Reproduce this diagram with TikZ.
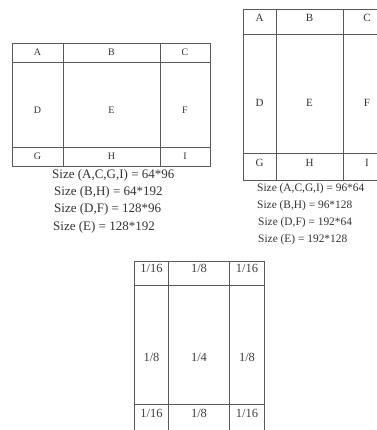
\documentclass[tikz,border=0pt]{standalone}
\usepackage{fontspec}
\setmainfont{Liberation Serif}
\begin{document}
\begin{tikzpicture}[x=1pt,y=-1pt,
  grid/.style={draw=black!65,line width=0.7pt},
  lab/.style={text=black!80,inner sep=0pt,font=\fontsize{10}{11}\selectfont},
  labb/.style={text=black!80,inner sep=0pt,font=\fontsize{11}{13}\selectfont},
  labc/.style={text=black!75,inner sep=0pt,font=\fontsize{12.5}{14}\selectfont},
  capa/.style={text=black!80,inner sep=0pt,anchor=west,font=\fontsize{13}{15}\selectfont},
  capb/.style={text=black!80,inner sep=0pt,anchor=west,font=\fontsize{11.4}{13}\selectfont}]
\useasboundingbox (0,0) rectangle (376,430);
% ---------- table 1 ----------
\draw[grid] (12,43) rectangle (210,166);
\draw[grid] (12,62) -- (210,62) (12,147) -- (210,147);
\draw[grid] (63,43) -- (63,166) (160,43) -- (160,166);
\node[lab] (a1) at (37.5,52.5) {A};
\node[lab] (b1) at (111.5,52.5) {B};
\node[lab] (c1) at (185,52.5) {C};
\node[lab] (d1) at (37.5,110) {D};
\node[lab] (e1) at (111.5,110) {E};
\node[lab] (f1) at (185,110) {F};
\node[lab] (g1) at (37.5,156.5) {G};
\node[lab] (h1) at (111.5,156.5) {H};
\node[lab] (i1) at (185,156.5) {I};
\node[capa] (s11) at (52,175.5) {Size (A,C,G,I) = 64*96};
\node[capa] (s12) at (54,192) {Size (B,H) = 64*192};
\node[capa] (s13) at (54,209) {Size (D,F) = 128*96};
\node[capa] (s14) at (53,227) {Size (E) = 128*192};
% ---------- table 2 ----------
\draw[grid] (390,9) -- (243,9) -- (243,180) -- (390,180);
\draw[grid] (243,34) -- (390,34) (243,153) -- (390,153);
\draw[grid] (276,9) -- (276,180) (343,9) -- (343,180);
\node[labb] (a2) at (259.5,18) {A};
\node[labb] (b2) at (309.5,18) {B};
\node[labb] (c2) at (367,18) {C};
\node[labb] (d2) at (259.5,103) {D};
\node[labb] (e2) at (309.5,103) {E};
\node[labb] (f2) at (367,103) {F};
\node[labb] (g2) at (259.5,163) {G};
\node[labb] (h2) at (309.5,163) {H};
\node[labb] (i2) at (367,163) {I};
\node[capb] (s21) at (257,188.5) {Size (A,C,G,I) = 96*64};
\node[capb] (s22) at (257,205.5) {Size (B,H) = 96*128};
\node[capb] (s23) at (258,222.5) {Size (D,F) = 192*64};
\node[capb] (s24) at (258,240) {Size (E) = 192*128};
% ---------- table 3 ----------
\draw[grid] (134.5,440) -- (134.5,261) -- (264,261) -- (264,440);
\draw[grid] (134.5,285) -- (264,285) (134.5,404) -- (264,404);
\draw[grid] (168.5,261) -- (168.5,440) (229.5,261) -- (229.5,440);
\node[labc] (a3) at (151.5,268.5) {1/16};
\node[labc] (b3) at (199,268.5) {1/8};
\node[labc] (c3) at (247,268.5) {1/16};
\node[labc] (d3) at (151.5,357) {1/8};
\node[labc] (e3) at (199,357) {1/4};
\node[labc] (f3) at (247,357) {1/8};
\node[labc] (g3) at (151.5,413) {1/16};
\node[labc] (h3) at (199,413) {1/8};
\node[labc] (i3) at (247,413) {1/16};
\end{tikzpicture}
\end{document}
